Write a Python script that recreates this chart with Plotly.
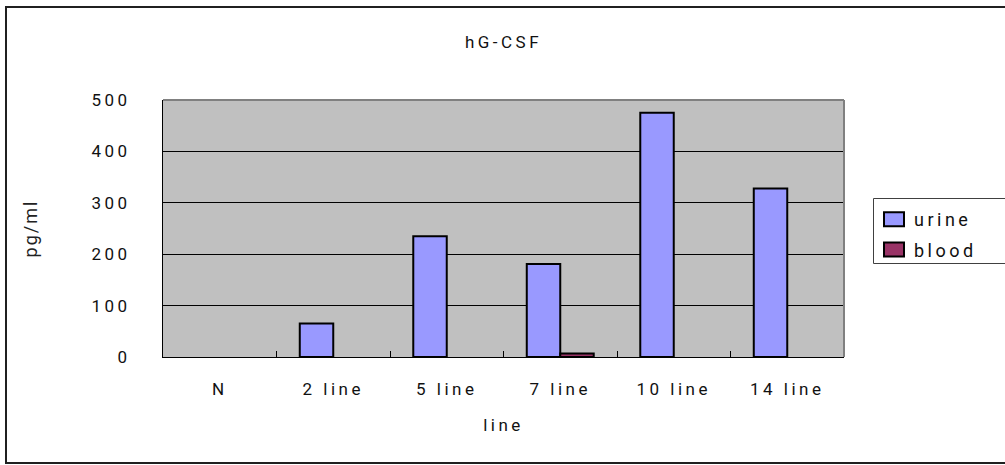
import plotly.graph_objects as go

# hG-CSF concentration by line, urine vs blood (None = no measurement drawn)
categories = ["N", "2 line", "5 line", "7 line", "10 line", "14 line"]
urine = [None, 65, 235, 181, 475, 328]
blood = [None, None, None, 7, None, None]
y_ticks = [0, 100, 200, 300, 400, 500]

FONT = "Roboto, Liberation Sans, Arial, sans-serif"
W, H = 1005, 465
L, R, T, B = 163, 161, 100, 108
pw, ph = W - L - R, H - T - B


def px_x(x):
    return (x - L) / pw


def px_y(y):
    return (H - B - y) / ph


fig = go.Figure()
fig.add_trace(go.Bar(
    x=categories, y=urine, name="urine", legendgroup="u",
    marker=dict(color="#9999FF", line=dict(color="black", width=2)),
))
fig.add_trace(go.Bar(
    x=categories, y=blood, name="blood", legendgroup="b",
    marker=dict(color="#993366", line=dict(color="black", width=2)),
))

fig.update_layout(
    width=W, height=H,
    margin=dict(l=L, r=R, t=T, b=B, autoexpand=False),
    paper_bgcolor="white",
    plot_bgcolor="#C0C0C0",
    font=dict(family=FONT, size=17, color="#111111"),
    barmode="group",
    bargap=0.41,
    bargroupgap=0,
    title=dict(text="hG-CSF", x=0.5, xanchor="center", xref="paper",
               y=1 - 42 / H, yanchor="middle", yref="container",
               font=dict(size=17)),
    legend=dict(x=px_x(874), y=px_y(201), xanchor="left", yanchor="top",
                bgcolor="rgba(0,0,0,0)", borderwidth=0,
                tracegroupgap=4, font=dict(size=18)),
    xaxis=dict(
        type="category", showline=True, linecolor="black", linewidth=1,
        ticks="inside", tickson="boundaries", ticklen=6, tickcolor="black",
        showgrid=False, ticklabelstandoff=17,
        title=dict(text="line", standoff=20, font=dict(size=17)),
    ),
    yaxis=dict(
        range=[0, 500], tickvals=y_ticks, ticktext=[str(v) for v in y_ticks],
        showline=True, linecolor="black", linewidth=1,
        showgrid=True, gridcolor="black", gridwidth=1,
        ticks="", ticklabelstandoff=28, zeroline=False,
        title=dict(text="pg/ml", standoff=59, font=dict(size=18, color="#222222")),
    ),
    shapes=[
        # gray frame on the top and right of the plot area
        dict(type="line", xref="paper", yref="paper", x0=0, x1=1, y0=1, y1=1,
             line=dict(color="#808080", width=2)),
        dict(type="line", xref="paper", yref="paper", x0=1, x1=1, y0=0, y1=1,
             line=dict(color="#808080", width=2)),
        # legend box
        dict(type="rect", xref="paper", yref="paper",
             x0=px_x(873.5), x1=px_x(1012), y0=px_y(198.5), y1=px_y(263.5),
             line=dict(color="#404040", width=1), fillcolor="rgba(0,0,0,0)"),
        # chart frame
        dict(type="rect", xref="paper", yref="paper",
             x0=px_x(6), x1=px_x(1015), y0=px_y(7), y1=px_y(463),
             line=dict(color="#202020", width=2), fillcolor="rgba(0,0,0,0)"),
    ],
)

# widen letter spacing of labels (the y title only slightly), larger legend
# swatches, and let legend text run past its clip box
spacing_js = """
document.querySelectorAll('.main-svg text').forEach(function (t) {
  t.style.letterSpacing = t.classList.contains('ytitle') ? '2px' : '3.5px';
});
document.querySelectorAll('.legend [clip-path]').forEach(function (e) {
  e.removeAttribute('clip-path');
});
document.querySelectorAll('.legend .legendpoints path').forEach(function (p) {
  p.setAttribute('d', 'M10,7H-10V-7H10Z');
});
"""

fig.write_html("out.html", post_script=spacing_js)
